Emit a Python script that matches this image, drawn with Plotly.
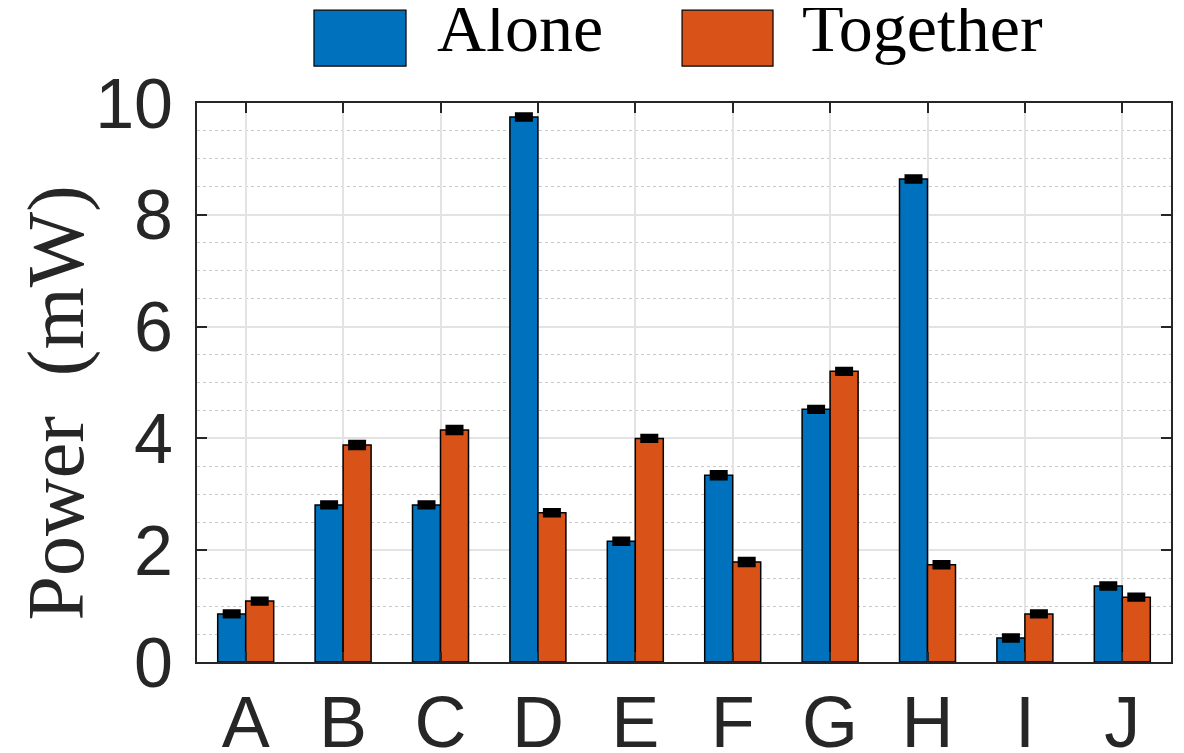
import plotly.graph_objects as go

categories = ["A", "B", "C", "D", "E", "F", "G", "H", "I", "J"]
alone = [0.86, 2.81, 2.81, 9.75, 2.16, 3.34, 4.52, 8.64, 0.43, 1.36]
together = [1.09, 3.88, 4.15, 2.67, 4.00, 1.79, 5.20, 1.74, 0.86, 1.16]
alone_err = [0.03, 0.03, 0.03, 0.03, 0.03, 0.04, 0.03, 0.03, 0.03, 0.03]
together_err = [0.03, 0.04, 0.04, 0.03, 0.03, 0.04, 0.03, 0.03, 0.03, 0.03]
series_names = ["Alone", "Together"]
colors = ["#0072BD", "#D95319"]
y_title = "Power\u2002(mW)"

fig = go.Figure()
for name, vals, errs, col in zip(series_names, [alone, together], [alone_err, together_err], colors):
    fig.add_trace(go.Bar(
        x=categories, y=vals, name=name,
        marker=dict(color=col, line=dict(color="#000000", width=1.5)),
        error_y=dict(type="data", array=errs, color="#000000", thickness=6, width=9),
        showlegend=False,
    ))

# Manual legend (large swatches as in reference)
legend_items = [(0.1201, 0.2146, 0.2440), (0.4980, 0.5914, 0.6190)]
for (x0, x1, xt), name, col in zip(legend_items, series_names, colors):
    fig.add_shape(type="rect", xref="paper", yref="paper", x0=x0, x1=x1,
                  y0=1.066, y1=1.166, fillcolor=col, line=dict(color="#000000", width=1.2))
    fig.add_annotation(xref="paper", yref="paper", x=xt, y=1.134, text=name,
                       showarrow=False, xanchor="left", yanchor="middle",
                       font=dict(family="Liberation Serif", size=68, color="#000000"))

# Y-axis title as rotated annotation (positioned like the reference)
fig.add_annotation(xref="paper", yref="paper", x=-0.0975, y=0.4633, text=y_title,
                   textangle=-90, showarrow=False, xanchor="right", yanchor="middle",
                   font=dict(family="Liberation Serif", size=80, color="#262626"))

fig.update_layout(
    width=1184, height=753,
    margin=dict(l=189, r=21, t=95, b=99),
    paper_bgcolor="white", plot_bgcolor="white",
    barmode="group", bargap=0.425, bargroupgap=0,
    font=dict(family="Liberation Sans", color="#262626"),
    xaxis=dict(
        automargin=False,
        tickfont=dict(size=72, family="Liberation Sans", color="#262626"),
        ticklabelstandoff=-3,
        showgrid=True, gridcolor="#e3e3e3", gridwidth=1.5,
        showline=True, linecolor="#262626", linewidth=2, mirror="ticks",
        ticks="inside", ticklen=10, tickwidth=2, tickcolor="#262626",
        range=[-0.5, 9.5],
    ),
    yaxis=dict(
        automargin=False,
        range=[0, 10], dtick=2,
        tickfont=dict(size=70, family="Liberation Sans", color="#262626"),
        ticklabelstandoff=8,
        showgrid=True, gridcolor="#e3e3e3", gridwidth=1.5,
        showline=True, linecolor="#262626", linewidth=2, mirror="ticks",
        ticks="inside", ticklen=10, tickwidth=2, tickcolor="#262626",
        zeroline=False,
        minor=dict(dtick=0.5, showgrid=True, griddash="dot", gridcolor="#c8c8c8", gridwidth=1.2, ticks=""),
    ),
)

fig.write_html("out.html")
